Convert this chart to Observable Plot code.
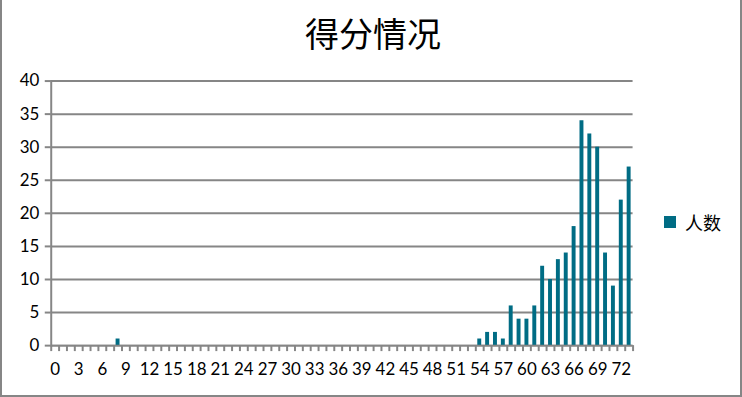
<!DOCTYPE html>
<html>
<head>
<meta charset="utf-8">
<script src="https://cdn.jsdelivr.net/npm/d3@7"></script>
<script src="https://cdn.jsdelivr.net/npm/@observablehq/plot@0.6"></script>
<style>
  html, body { margin: 0; padding: 0; background: #fff; }
  #chart { position: relative; width: 742px; height: 397px; box-sizing: border-box; border-left: 2px solid #868686; border-right: 2px solid #868686; border-bottom: 2px solid #868686; overflow: hidden; }
  #chart svg { position: absolute; left: -2px; top: 0; }
  #title { position: absolute; left: 0; width: 742px; top: 8px; text-align: center; font-family: "Noto Sans CJK SC", sans-serif; font-size: 34px; color: #000; }
  #legend { position: absolute; left: 662px; top: 209px; font-family: "Noto Sans CJK SC", sans-serif; font-size: 18px; color: #000; display: flex; align-items: center; }
  #legend .sw { width: 12px; height: 12px; margin-right: 9px; }
</style>
</head>
<body>
<div id="chart">
  <div id="title"></div>
  <div id="legend"><span class="sw"></span><span class="lbl"></span></div>
</div>
<script>
const title = "得分情况";
const seriesName = "人数";
const scores = d3.range(0, 74);
const counts = [
  0, 0, 0, 0, 0, 0, 0, 0, 1, 0,
  0, 0, 0, 0, 0, 0, 0, 0, 0, 0,
  0, 0, 0, 0, 0, 0, 0, 0, 0, 0,
  0, 0, 0, 0, 0, 0, 0, 0, 0, 0,
  0, 0, 0, 0, 0, 0, 0, 0, 0, 0,
  0, 0, 0, 0, 1, 2, 2, 1, 6, 4,
  4, 6, 12, 10, 13, 14, 18, 34, 32, 30,
  14, 9, 22, 27
];
const xTickLabels = [0, 3, 6, 9, 12, 15, 18, 21, 24, 27, 30, 33, 36, 39, 42, 45, 48, 51, 54, 57, 60, 63, 66, 69, 72];
const yTicks = [0, 5, 10, 15, 20, 25, 30, 35, 40];

const data = scores.map((s, i) => ({score: s, count: counts[i]}));
const barColor = "#006C84";
const grey = "#868686";

const W = 742, H = 397;
const mL = 51, mR = 106, mT = 81, mB = 50;
const step = (W - mL - mR) / scores.length;

const plot = Plot.plot({
  width: W,
  height: H,
  marginLeft: mL,
  marginRight: mR,
  marginTop: mT,
  marginBottom: mB,
  style: {fontFamily: "Lato, 'Noto Sans', sans-serif", fontSize: "17px", color: "#000", background: "transparent"},
  x: {type: "band", domain: scores, paddingInner: 0.5, paddingOuter: 0.25, axis: null},
  y: {domain: [0, 40], axis: null},
  marks: [
    Plot.gridY(yTicks, {stroke: grey, strokeWidth: 2, strokeOpacity: 1}),
    Plot.barY(data, {x: "score", y: "count", fill: barColor}),
    Plot.ruleY([0], {stroke: grey, strokeWidth: 2}),
    Plot.frame({anchor: "left", stroke: grey, strokeWidth: 2}),
    Plot.axisY({ticks: yTicks, tickSize: 6, tickPadding: 6, stroke: grey, strokeWidth: 2, fontSize: 17, fill: "#000", label: null}),
    Plot.axisX({ticks: scores, tickSize: 6, tickFormat: () => "", dx: -step / 2, stroke: grey, strokeWidth: 2, label: null}),
    Plot.axisX({ticks: [scores[scores.length - 1]], tickSize: 6, tickFormat: () => "", dx: step / 2, stroke: grey, strokeWidth: 2, label: null}),
    Plot.axisX({ticks: xTickLabels, tickSize: 0, tickPadding: 17, fontSize: 17, fill: "#000", label: null})
  ]
});
document.getElementById("chart").appendChild(plot);
document.getElementById("title").textContent = title;
document.querySelector("#legend .sw").style.background = barColor;
document.querySelector("#legend .lbl").textContent = seriesName;
</script>
</body>
</html>
